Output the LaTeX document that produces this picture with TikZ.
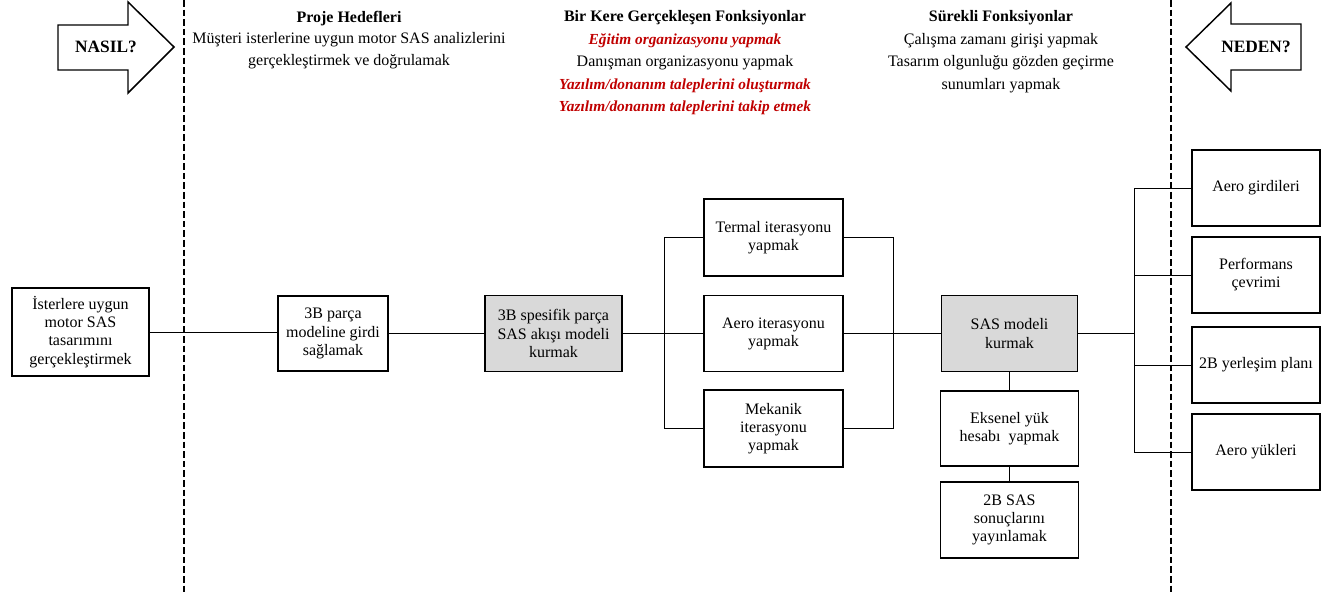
\documentclass[tikz,border=0pt]{standalone}
\usepackage{fontspec}
\setmainfont{Liberation Serif}
\definecolor{shade}{HTML}{D9D9D9}
\definecolor{redtxt}{HTML}{C00000}
\newcommand{\redline}[1]{{\color{redtxt}\fontsize{11.5}{16.8}\selectfont\bfseries\itshape #1}}
\begin{document}
\begin{tikzpicture}[x=0.75pt,y=-0.75pt,
  wh/.style 2 args={minimum width=#1*0.75pt,minimum height=#2*0.75pt},
  box/.style={draw,line width=1.1pt,align=center,inner sep=0pt,
    font=\fontsize{12}{13.6}\selectfont},
  grey/.style={box,fill=shade},
  link/.style={line width=0.6pt},
  mainlink/.style={line width=0.9pt},
  divider/.style={line width=1.1pt,dash pattern=on 5pt off 2.2pt},
  bigarrow/.style={draw,line width=1.1pt,fill=white},
  head/.style={align=center,inner sep=0pt,font=\fontsize{12}{16.4}\selectfont},
  tallhead/.style={head,font=\fontsize{12}{16.8}\selectfont},
  arrowlabel/.style={font=\fontsize{13}{14}\selectfont\bfseries}]
\useasboundingbox (0,0) rectangle (1321,595);
\clip (0,0) rectangle (1321,595);

% dashed dividers
\draw[divider] (184,0) -- (184,595);
\draw[divider] (1171,0) -- (1171,595);

% block arrows
\draw[bigarrow] (58,25) -- (128,25) -- (128,2) -- (174,47) -- (128,93) -- (128,70) -- (58,70) -- cycle;
\node[arrowlabel] (how) at (106,47) {NASIL?};
\draw[bigarrow] (1186,47) -- (1231,3) -- (1231,24) -- (1301,24) -- (1301,70) -- (1231,70) -- (1231,91) -- cycle;
\node[arrowlabel] (why) at (1256,47) {NEDEN?};

% column headings
\node[head,anchor=north] (goals) at (349,10.5) {\textbf{Proje Hedefleri}\\
  Müşteri isterlerine uygun motor SAS analizlerini\\
  gerçekleştirmek ve doğrulamak};
\node[tallhead,anchor=north] (once) at (685,10.5) {\textbf{Bir Kere Gerçekleşen Fonksiyonlar}\\
  \redline{Eğitim organizasyonu yapmak}\\
  Danışman organizasyonu yapmak\\
  \redline{Yazılım/donanım taleplerini oluşturmak}\\
  \redline{Yazılım/donanım taleplerini takip etmek}};
\node[tallhead,anchor=north] (cont) at (1001,10.5) {\textbf{Sürekli Fonksiyonlar}\\
  Çalışma zamanı girişi yapmak\\
  Tasarım olgunluğu gözden geçirme\\
  sunumları yapmak};

% process boxes
\node[box,wh={137}{88}] (b0) at (80.5,332) {İsterlere uygun\\motor SAS\\tasarımını\\gerçekleştirmek};
\node[box,wh={110}{75}] (b1) at (333,333.5) {3B parça\\modeline girdi\\sağlamak};
\node[grey,wh={137}{76}] (b2) at (553.5,333.5) {3B spesifik parça\\SAS akışı modeli\\kurmak};
\node[box,wh={139}{77}] (t1) at (773.5,237.5) {Termal iterasyonu\\yapmak};
\node[box,wh={139}{76}] (t2) at (773.5,333.5) {Aero iterasyonu\\yapmak};
\node[box,wh={139}{77}] (t3) at (773.5,428.5) {Mekanik\\iterasyonu\\yapmak};
\node[grey,wh={136}{76}] (sas) at (1009.5,333.5) {SAS modeli\\kurmak};
\node[box,wh={138}{75}] (eks) at (1009.5,428.5) {Eksenel yük\\hesabı~ yapmak};
\node[box,wh={138}{76}] (pub) at (1009.5,520) {2B SAS\\sonuçlarını\\yayınlamak};
\node[box,wh={128}{76}] (r1) at (1256,188) {Aero girdileri};
\node[box,wh={128}{76}] (r2) at (1256,275) {Performans\\çevrimi};
\node[box,wh={128}{76}] (r3) at (1256,365) {2B yerleşim planı};
\node[box,wh={128}{76}] (r4) at (1256,452) {Aero yükleri};

% bus positions
\coordinate (lbus) at (664,0);
\coordinate (rbus) at (893,0);
\coordinate (obus) at (1134,0);

% connectors
\draw[link] (b0.east) -- (b0.east -| b1.west);
\draw[link] (b1.east) -- (b1.east -| b2.west);
\draw[mainlink] (b2.east) -- (t2.west);
\draw[link] (t1.west) -| (lbus |- t3.west) -- (t3.west);
\draw[link] (t1.east) -| (rbus |- t3.east) -- (t3.east);
\draw[mainlink] (t2.east) -- (sas.west);
\draw[link] (sas.south) -- (eks.north);
\draw[link] (eks.south) -- (pub.north);
\draw[mainlink] (sas.east) -- (obus |- sas.east);
\draw[link] (r1.west) -| (obus |- r4.west) -- (r4.west);
\draw[link] (r2.west) -- (obus |- r2.west);
\draw[link] (r3.west) -- (obus |- r3.west);
\end{tikzpicture}
\end{document}
